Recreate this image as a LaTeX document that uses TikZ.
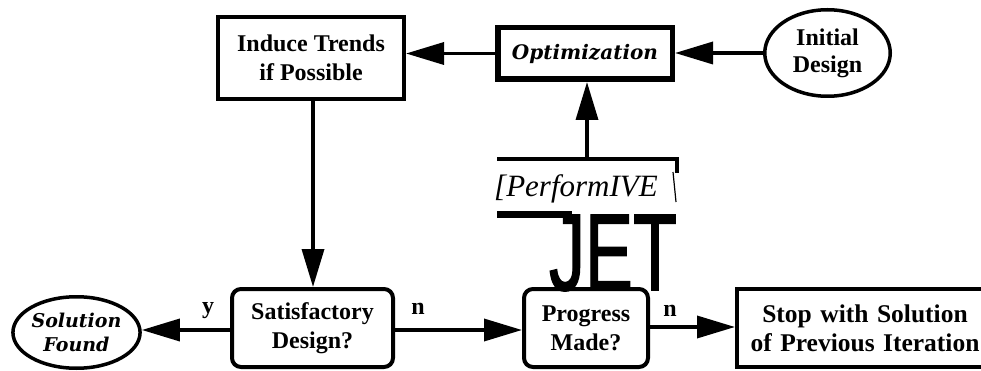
\documentclass[tikz,border=0pt]{standalone}
\usepackage{fontspec}
\setmainfont{Liberation Serif}
\newfontfamily\wideserif{DejaVu Serif}
\newfontfamily\jetfont[FakeBold=1.6]{Liberation Sans}
\usepackage{tikz}
\usetikzlibrary{arrows.meta,positioning,calc,shapes.geometric}
\tikzset{
  stepbox/.style={draw=black, fill=white, line width=4pt, align=center,
                  inner sep=0pt, font=\fontsize{24}{29}\selectfont\bfseries},
  testbox/.style={stepbox, rounded corners=9pt},
  endpoint/.style={ellipse, draw=black, fill=white, line width=3.5pt,
                   align=center, inner sep=0pt},
  flow/.style={-{Triangle[length=38pt,width=22pt]}, line width=3.5pt, draw=black},
  answer/.style={font=\fontsize{24}{24}\selectfont\bfseries, inner sep=0pt}
}
\begin{document}
\begin{tikzpicture}[x=1pt,y=-1pt]
  \clip (0,0) rectangle (981,371);
  \fill[white] (0,0) rectangle (981,371);
  % boxes of the loop
  \node[stepbox, minimum width=186pt, minimum height=82pt] (induce) at (311,58)
    {Induce Trends\\if Possible};
  \node[stepbox, line width=5.5pt, minimum width=174.5pt, minimum height=51.5pt,
        font=\fontsize{20}{24}\selectfont\wideserif\bfseries\itshape] (opt) at (585,53.5)
    {Optimization};
  \node[endpoint, minimum width=125.5pt, minimum height=86.5pt,
        font=\fontsize{24}{27}\selectfont\bfseries] (initial) at (827.5,53)
    {Initial\\Design};
  \node[testbox, minimum width=161pt, minimum height=78pt] (sat) at (312.5,328)
    {Satisfactory\\Design?};
  \node[testbox, minimum width=124pt, minimum height=78pt] (prog) at (586,328)
    {Progress\\Made?};
  \node[stepbox, minimum width=256pt, minimum height=78pt, text width=250pt,
        font=\fontsize{25.5}{29}\selectfont\bfseries] (stop) at (865,328)
    {Stop with Solution\\of Previous Iteration};
  \node[endpoint, minimum width=123.5pt, minimum height=71.5pt,
        font=\fontsize{19}{24}\selectfont\wideserif\bfseries\itshape] (found) at (76.5,332.5)
    {Solution\\Found};
  % the garbled VE/JET block
  \coordinate (pv) at (587,159);
  \draw[line width=4.5pt] (497,159) -- (679,159);
  \draw[line width=4.5pt] (677,159) -- (677,173);
  \draw[line width=1.2pt] (673,172) -- (676,202);
  \node[anchor=base west, inner sep=0pt, font=\fontsize{31}{31}\selectfont\itshape]
    (perform) at (494,197) {[PerformIVE};
  \draw[line width=7pt] (497,214.5) -- (572,214.5);
  \node[inner sep=0pt, anchor=base, text depth=0pt] (jet) at (613,290)
    {\scalebox{0.66}[1]{\jetfont\fontsize{109}{109}\selectfont JET}};
  % connectors
  \draw[flow] (initial.west) -- (initial.west -| opt.east);
  \draw[flow] (opt.west) -- (opt.west -| induce.east);
  \draw[flow] (pv) -- (pv |- opt.south);
  \draw[flow] (induce.south -| 313,0) -- (313,0 |- sat.north);
  \draw[flow] (sat.west |- 0,330) -- (found.east |- 0,330);
  \draw[flow] (sat.east |- 0,330) -- (prog.west |- 0,330);
  \draw[flow] (prog.east |- 0,327) -- (stop.west |- 0,327);
  \node[answer] (yes) at (208,311) {y};
  \node[answer] (no1) at (418,309) {n};
  \node[answer] (no2) at (670,311) {n};
\end{tikzpicture}
\end{document}
